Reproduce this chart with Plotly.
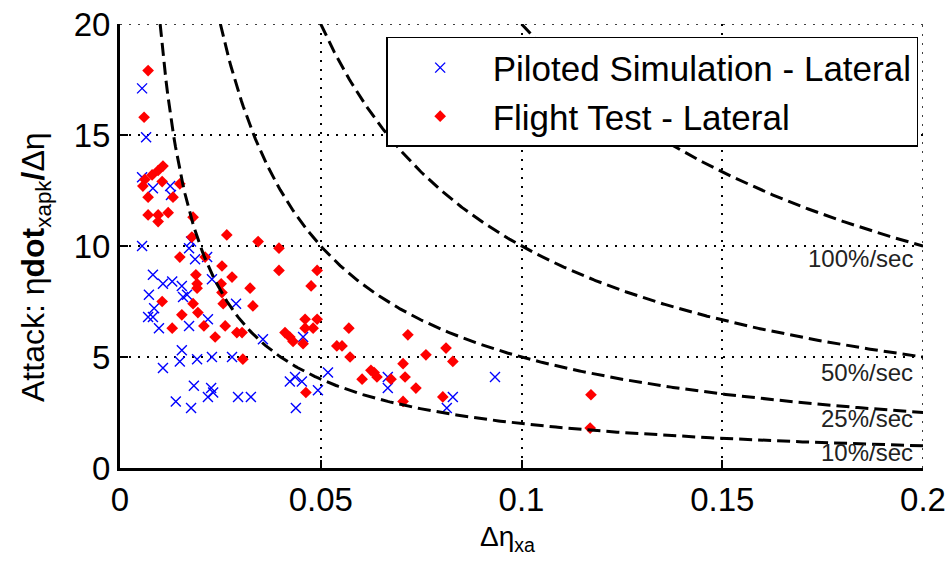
import numpy as np
import plotly.graph_objects as go

# Piloted Simulation - Lateral (blue x)
sim_x = [0.0055, 0.0065, 0.0055, 0.0082, 0.0125, 0.0127, 0.0055, 0.0177, 0.0172, 0.0187,
         0.0217, 0.0229, 0.0082, 0.0107, 0.0130, 0.0154, 0.0072, 0.0157, 0.0167, 0.0085,
         0.0082, 0.0070, 0.0097, 0.0172, 0.0219, 0.0289, 0.0356, 0.0456, 0.0107, 0.0149,
         0.0154, 0.0192, 0.0229, 0.0279, 0.0184, 0.0227, 0.0219, 0.0232, 0.0139, 0.0177,
         0.0294, 0.0326, 0.0423, 0.0436, 0.0453, 0.0438, 0.0493, 0.0518, 0.0667, 0.0667,
         0.0934, 0.0829, 0.0814]
sim_y = [17.1, 14.9, 13.1, 12.6, 12.7, 12.3, 10.0, 10.2, 9.9, 9.4,
         9.5, 8.5, 8.7, 8.3, 8.4, 8.2, 7.8, 7.7, 7.8, 7.2,
         6.8, 6.8, 6.3, 6.4, 6.7, 7.4, 5.8, 5.9, 4.5, 4.8,
         5.3, 4.9, 5.0, 5.0, 3.7, 3.6, 3.2, 3.4, 3.0, 2.7,
         3.2, 3.2, 3.9, 4.1, 3.9, 2.7, 3.5, 4.3, 4.1, 3.6,
         4.1, 3.2, 2.7]

# Flight Test - Lateral (red diamonds)
ft_x = [0.0070, 0.0060, 0.0107, 0.0095, 0.0080, 0.0062, 0.0057, 0.0105, 0.0149, 0.0070,
        0.0132, 0.0070, 0.0095, 0.0095, 0.0120, 0.0182, 0.0179, 0.0266, 0.0344, 0.0396,
        0.0149, 0.0212, 0.0254, 0.0189, 0.0192, 0.0192, 0.0252, 0.0279, 0.0396, 0.0491,
        0.0476, 0.0324, 0.0331, 0.0254, 0.0105, 0.0182, 0.0257, 0.0154, 0.0194, 0.0130,
        0.0209, 0.0262, 0.0237, 0.0291, 0.0304, 0.0306, 0.0461, 0.0491, 0.0461, 0.0481,
        0.0411, 0.0423, 0.0431, 0.0456, 0.0463, 0.0570, 0.0540, 0.0553, 0.0573, 0.0717,
        0.0762, 0.0812, 0.0829, 0.0705, 0.0625, 0.0633, 0.0640, 0.0710, 0.0603, 0.0675,
        0.0737, 0.0804, 0.0705, 0.1173, 0.1171]
ft_y = [17.9, 15.8, 13.6, 13.4, 13.2, 13.0, 12.7, 12.9, 12.8, 12.2,
        12.2, 11.4, 11.4, 11.1, 11.5, 11.3, 10.4, 10.5, 10.2, 9.9,
        9.5, 9.5, 9.1, 8.7, 8.3, 8.1, 8.3, 8.6, 8.9, 8.9,
        8.2, 8.1, 7.3, 7.9, 7.5, 7.4, 7.4, 6.9, 7.0, 6.3,
        6.4, 6.4, 5.9, 6.1, 6.1, 4.9, 6.7, 6.7, 6.3, 6.3,
        6.1, 5.9, 5.7, 5.6, 3.4, 6.3, 5.5, 5.5, 5.0, 6.0,
        5.1, 5.4, 4.8, 4.7, 4.4, 4.3, 4.1, 4.1, 4.0, 4.0,
        3.6, 3.2, 3.0, 3.3, 1.8]

# constant-rate guide curves: attack = k / amplitude
rate_labels = ["100%/sec", "50%/sec", "25%/sec", "10%/sec"]
rate_k = [2.0, 1.0, 0.5, 0.2]
label_y = [9.45, 4.3, 2.25, 0.68]

x_ticks = [0, 0.05, 0.1, 0.15, 0.2]
x_ticktext = ["0", "0.05", "0.1", "0.15", "0.2"]
y_ticks = [0, 5, 10, 15, 20]
x_max = 0.2
y_max = 20

FONT = "Liberation Sans, Arial, sans-serif"
GRID_DASH = "2px,7px"

fig = go.Figure()
fig.add_trace(go.Scatter(
    x=sim_x, y=sim_y, mode="markers", name="Piloted Simulation - Lateral",
    marker=dict(symbol="x-thin", size=10, line=dict(color="#0000ff", width=1.4), color="#0000ff"),
))
fig.add_trace(go.Scatter(
    x=ft_x, y=ft_y, mode="markers", name="Flight Test - Lateral",
    marker=dict(symbol="diamond", size=9, color="#ff0000"),
))
for k in rate_k:
    xs = np.linspace(k / 20.0, 0.2, 400)
    fig.add_trace(go.Scatter(
        x=xs, y=k / xs, mode="lines", showlegend=False, hoverinfo="skip",
        line=dict(color="black", width=3, dash="13px,6px"),
    ))

for lab, ly in zip(rate_labels, label_y):
    fig.add_annotation(x=0.198, y=ly, text=lab, showarrow=False, xanchor="right",
                       yanchor="middle", font=dict(family=FONT, size=24, color="#222222"))

# boundary grid lines (top and right) drawn explicitly
fig.add_shape(type="line", xref="paper", yref="y", x0=0, x1=1, y0=y_max, y1=y_max,
              line=dict(color="black", width=1.5, dash=GRID_DASH), layer="below")
fig.add_shape(type="line", xref="x", yref="paper", x0=x_max, x1=x_max, y0=0, y1=1,
              line=dict(color="black", width=1.5, dash=GRID_DASH), layer="below")

# axis titles as annotations for exact placement
fig.add_annotation(xref="paper", yref="paper", x=-0.105, y=0.452, textangle=-90,
                   text="Attack: η<b>dot</b><sub>xapk</sub><b>/</b>Δη", showarrow=False,
                   xanchor="center", yanchor="middle",
                   font=dict(family=FONT, size=32, color="black"))
fig.add_annotation(xref="paper", yref="paper", x=0.482, y=-0.115,
                   text="Δη<sub>xa</sub>", showarrow=False,
                   xanchor="center", yanchor="top",
                   font=dict(family=FONT, size=28, color="black"))

fig.update_layout(
    width=952, height=570,
    margin=dict(l=120, r=29, t=24, b=102),
    paper_bgcolor="white", plot_bgcolor="white",
    font=dict(family=FONT, color="black"),
    legend=dict(x=0.994, y=0.971, xanchor="right", yanchor="top",
                bgcolor="white", bordercolor="black", borderwidth=1.5,
                font=dict(family=FONT, size=35, color="black"),
                itemwidth=95),
    showlegend=True,
)
fig.update_xaxes(
    range=[0, x_max], tickvals=x_ticks, ticktext=x_ticktext,
    showline=True, linecolor="black", linewidth=3, mirror=False,
    ticks="inside", ticklen=8, tickwidth=2, tickcolor="black",
    showgrid=True, gridcolor="black", griddash=GRID_DASH, gridwidth=1.5,
    zeroline=False, tickfont=dict(family=FONT, size=33, color="black"),
    ticklabeloverflow="allow",
    automargin=False,
)
fig.update_yaxes(
    range=[0, y_max], tickvals=y_ticks,
    showline=True, linecolor="black", linewidth=3, mirror=False,
    ticks="inside", ticklen=8, tickwidth=2, tickcolor="black",
    showgrid=True, gridcolor="black", griddash=GRID_DASH, gridwidth=1.5,
    zeroline=False, tickfont=dict(family=FONT, size=33, color="black"),
    ticklabeloverflow="allow",
    automargin=False,
)

fig.write_html("out.html", config={"displayModeBar": False},
               post_script="document.body.style.margin='0px';")
